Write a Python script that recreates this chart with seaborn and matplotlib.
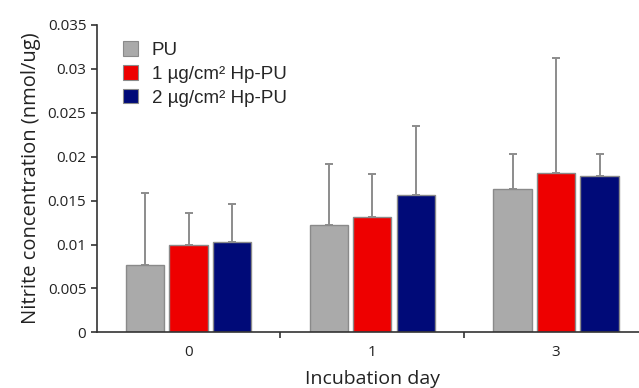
import matplotlib
matplotlib.use("Agg")
import matplotlib.pyplot as plt
import numpy as np
import pandas as pd
import seaborn as sns

# Nitrite release per sample group over the incubation period
days = ["0", "1", "3"]
groups = ["PU", "1 µg/cm² Hp-PU", "2 µg/cm² Hp-PU"]
mean_pu = [0.00767, 0.01222, 0.01629]
mean_hp1 = [0.00994, 0.01310, 0.01811]
mean_hp2 = [0.01032, 0.01560, 0.01784]
sd_pu = [0.00823, 0.00698, 0.00405]
sd_hp1 = [0.00361, 0.00496, 0.01313]
sd_hp2 = [0.00429, 0.00786, 0.00243]

colors = ["#AAAAAA", "#EE0000", "#000A78"]
yticks = [0, 0.005, 0.01, 0.015, 0.02, 0.025, 0.03, 0.035]
ytick_labels = ["0", "0.005", "0.01", "0.015", "0.02", "0.025", "0.03", "0.035"]

df = pd.DataFrame({
    "day": days * 3,
    "group": [g for g in groups for _ in days],
    "value": mean_pu + mean_hp1 + mean_hp2,
    "sd": sd_pu + sd_hp1 + sd_hp2,
})

sns.set_theme(style="white")
plt.rcParams["font.family"] = ["Open Sans", "DejaVu Sans"]

fig = plt.figure(figsize=(6.39, 3.88), dpi=100)
ax = fig.add_axes([96.7 / 639, 1 - 332.3 / 388, (648 - 96.7) / 639, (332.3 - 25) / 388])

sns.barplot(data=df, x="day", y="value", hue="group", order=days,
            hue_order=groups, palette=colors, saturation=1, width=0.71, gap=0.12,
            errorbar=None, edgecolor="#8A8A8A", linewidth=1.0, ax=ax,
            legend=True)

# upper error bars, one per bar, in the same order as the bar patches
bars = [p for p in ax.patches if p.get_height() > 0][:len(df)]
sds = []
for g in groups:
    sub = df[df["group"] == g].set_index("day").loc[days]
    sds.extend(sub["sd"].tolist())
for bar, sd in zip(bars, sds):
    cx = bar.get_x() + bar.get_width() / 2
    top = bar.get_height()
    ax.errorbar(cx, top, yerr=[[0], [sd]], fmt="none", ecolor="#8C8C8C",
                elinewidth=1.4, capsize=2.8, capthick=1.4, zorder=1)

ax.set_xlim(-0.5, 2.5)
ax.set_ylim(0, 0.035)
ax.set_yticks(yticks)
ax.set_yticklabels(ytick_labels)
ax.set_xticks([0.5, 1.5], minor=True)
ax.tick_params(axis="x", which="major", length=0, pad=9, labelsize=11, colors="#222222")
ax.tick_params(axis="x", which="minor", length=4, width=1.2, direction="out", color="#333333", bottom=True)
ax.tick_params(axis="y", which="major", length=4, width=1.2, direction="out", color="#333333",
               left=True, labelsize=11, labelcolor="#222222")

for side in ["top", "right"]:
    ax.spines[side].set_visible(False)
for side in ["left", "bottom"]:
    ax.spines[side].set_color("#333333")
    ax.spines[side].set_linewidth(1.2)

ax.set_xlabel("Incubation day", fontsize=14, color="#222222", labelpad=7)
ax.set_ylabel("Nitrite concentration (nmol/ug)", fontsize=14.5, color="#222222", labelpad=5)

leg = ax.legend(loc="upper left", bbox_to_anchor=(0.047, 0.947), frameon=False,
                borderaxespad=0, borderpad=0,
                prop={"family": ["Liberation Sans", "DejaVu Sans"], "size": 13.5},
                handlelength=0.8, handleheight=0.8, handletextpad=0.75, labelspacing=0.33)
for h in leg.legend_handles:
    h.set_edgecolor("#8A8A8A")
    h.set_linewidth(0.8)

fig.savefig("out.png", dpi=100)
